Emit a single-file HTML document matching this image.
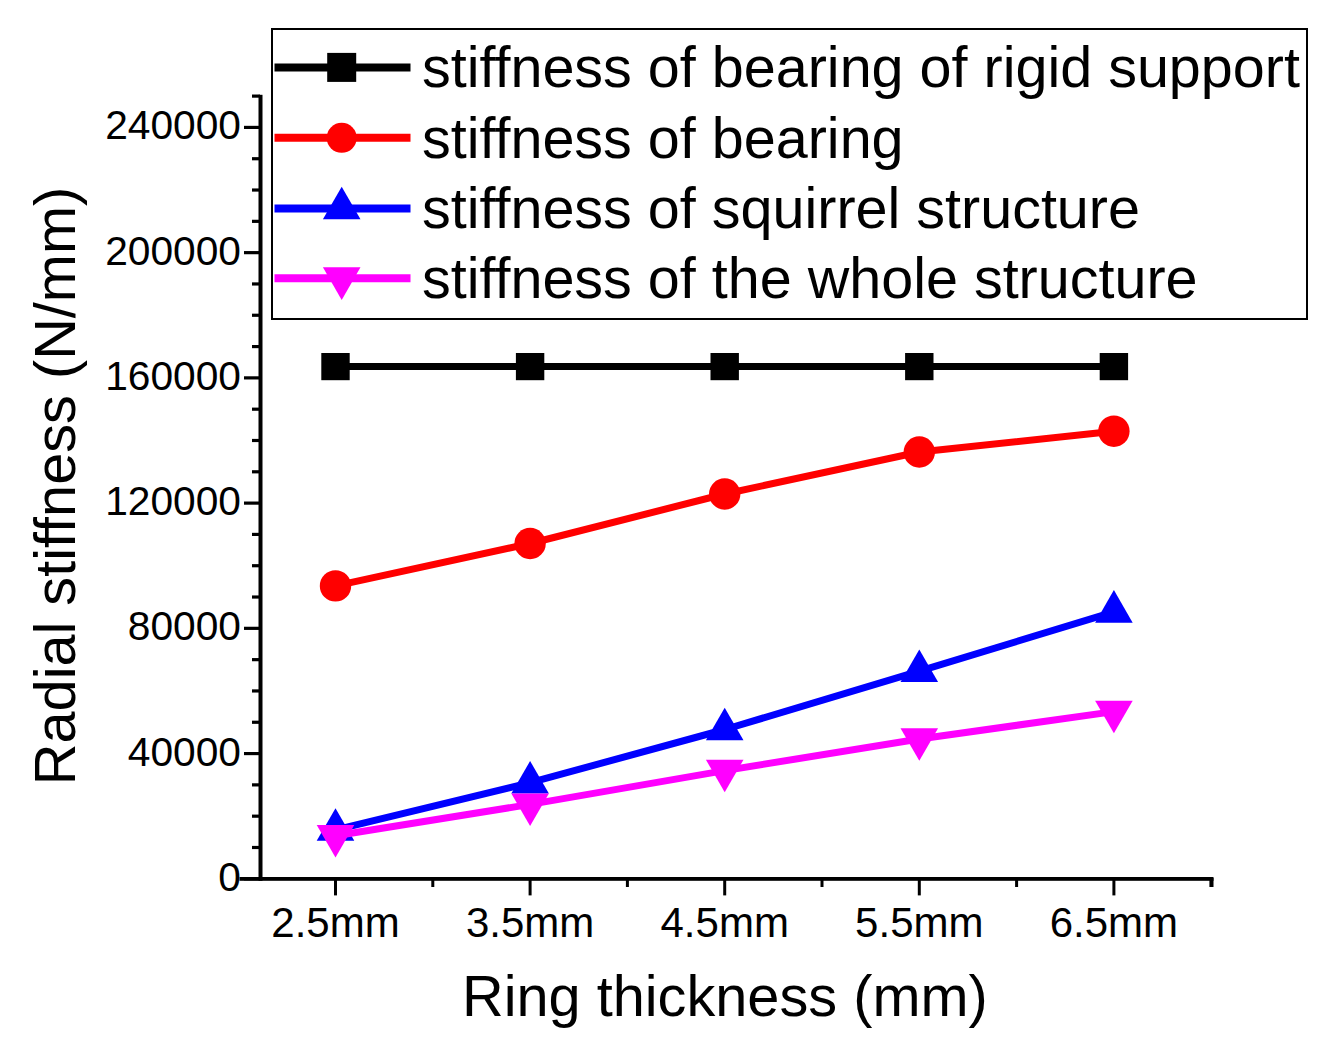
<!DOCTYPE html>
<html><head><meta charset="utf-8"><style>
html,body{margin:0;padding:0;background:#fff;width:1326px;height:1050px;overflow:hidden;font-family:"Liberation Sans",sans-serif;}
</style></head><body>
<svg width="1326" height="1050" viewBox="0 0 1326 1050" style="position:absolute;left:0;top:0">
<g stroke="#000" fill="none">
<rect x="258.5" y="94.8" width="4" height="786" fill="#000" stroke="none"/>
<rect x="239.5" y="877" width="974" height="3.8" fill="#000" stroke="none"/>
<line x1="244" y1="878.80" x2="260" y2="878.80" stroke-width="3.2"/>
<line x1="252" y1="847.49" x2="260" y2="847.49" stroke-width="3.2"/>
<line x1="252" y1="816.18" x2="260" y2="816.18" stroke-width="3.2"/>
<line x1="252" y1="784.88" x2="260" y2="784.88" stroke-width="3.2"/>
<line x1="244" y1="753.57" x2="260" y2="753.57" stroke-width="3.2"/>
<line x1="252" y1="722.26" x2="260" y2="722.26" stroke-width="3.2"/>
<line x1="252" y1="690.95" x2="260" y2="690.95" stroke-width="3.2"/>
<line x1="252" y1="659.65" x2="260" y2="659.65" stroke-width="3.2"/>
<line x1="244" y1="628.34" x2="260" y2="628.34" stroke-width="3.2"/>
<line x1="252" y1="597.03" x2="260" y2="597.03" stroke-width="3.2"/>
<line x1="252" y1="565.72" x2="260" y2="565.72" stroke-width="3.2"/>
<line x1="252" y1="534.42" x2="260" y2="534.42" stroke-width="3.2"/>
<line x1="244" y1="503.11" x2="260" y2="503.11" stroke-width="3.2"/>
<line x1="252" y1="471.80" x2="260" y2="471.80" stroke-width="3.2"/>
<line x1="252" y1="440.49" x2="260" y2="440.49" stroke-width="3.2"/>
<line x1="252" y1="409.19" x2="260" y2="409.19" stroke-width="3.2"/>
<line x1="244" y1="377.88" x2="260" y2="377.88" stroke-width="3.2"/>
<line x1="252" y1="346.57" x2="260" y2="346.57" stroke-width="3.2"/>
<line x1="252" y1="315.26" x2="260" y2="315.26" stroke-width="3.2"/>
<line x1="252" y1="283.96" x2="260" y2="283.96" stroke-width="3.2"/>
<line x1="244" y1="252.65" x2="260" y2="252.65" stroke-width="3.2"/>
<line x1="252" y1="221.34" x2="260" y2="221.34" stroke-width="3.2"/>
<line x1="252" y1="190.03" x2="260" y2="190.03" stroke-width="3.2"/>
<line x1="252" y1="158.73" x2="260" y2="158.73" stroke-width="3.2"/>
<line x1="244" y1="127.42" x2="260" y2="127.42" stroke-width="3.2"/>
<line x1="252" y1="96.11" x2="260" y2="96.11" stroke-width="3.2"/>
<line x1="335.50" y1="879" x2="335.50" y2="895.4" stroke-width="3"/>
<line x1="530.10" y1="879" x2="530.10" y2="895.4" stroke-width="3"/>
<line x1="724.70" y1="879" x2="724.70" y2="895.4" stroke-width="3"/>
<line x1="919.30" y1="879" x2="919.30" y2="895.4" stroke-width="3"/>
<line x1="1113.90" y1="879" x2="1113.90" y2="895.4" stroke-width="3"/>
<line x1="432.80" y1="879" x2="432.80" y2="887" stroke-width="3"/>
<line x1="627.40" y1="879" x2="627.40" y2="887" stroke-width="3"/>
<line x1="822.00" y1="879" x2="822.00" y2="887" stroke-width="3"/>
<line x1="1016.60" y1="879" x2="1016.60" y2="887" stroke-width="3"/>
<rect x="1209.4" y="878" width="4.1" height="9" fill="#000" stroke="none"/>
</g>
<g font-family="Liberation Sans, sans-serif" font-size="40.7" fill="#000">
<text x="241" y="890.80" text-anchor="end">0</text>
<text x="241" y="765.57" text-anchor="end">40000</text>
<text x="241" y="640.34" text-anchor="end">80000</text>
<text x="241" y="515.11" text-anchor="end">120000</text>
<text x="241" y="389.88" text-anchor="end">160000</text>
<text x="241" y="264.65" text-anchor="end">200000</text>
<text x="241" y="139.42" text-anchor="end">240000</text>
</g><g font-family="Liberation Sans, sans-serif" font-size="42" fill="#000">
<text x="335.50" y="936.8" text-anchor="middle">2.5mm</text>
<text x="530.10" y="936.8" text-anchor="middle">3.5mm</text>
<text x="724.70" y="936.8" text-anchor="middle">4.5mm</text>
<text x="919.30" y="936.8" text-anchor="middle">5.5mm</text>
<text x="1113.90" y="936.8" text-anchor="middle">6.5mm</text>
</g>
<text x="462" y="1016" font-family="Liberation Sans, sans-serif" font-size="57.7" fill="#000">Ring thickness (mm)</text>
<text transform="translate(74.9,785.2) rotate(-90)" x="0" y="0" font-family="Liberation Sans, sans-serif" font-size="57.7" fill="#000">Radial stiffness (N/mm)</text>
<polyline points="335.50,366.60 530.10,366.60 724.70,366.60 919.30,366.60 1113.90,366.60" fill="none" stroke="#000" stroke-width="7" stroke-linejoin="round"/>
<g fill="#000"><rect x="321.30" y="353.00" width="28.4" height="27.2"/><rect x="515.90" y="353.00" width="28.4" height="27.2"/><rect x="710.50" y="353.00" width="28.4" height="27.2"/><rect x="905.10" y="353.00" width="28.4" height="27.2"/><rect x="1099.70" y="353.00" width="28.4" height="27.2"/></g>
<polyline points="335.50,585.90 530.10,543.50 724.70,494.00 919.30,452.00 1113.90,431.20" fill="none" stroke="#f00" stroke-width="7" stroke-linejoin="round"/>
<g fill="#f00"><circle cx="335.50" cy="585.90" r="15.7"/><circle cx="530.10" cy="543.50" r="15.7"/><circle cx="724.70" cy="494.00" r="15.7"/><circle cx="919.30" cy="452.00" r="15.7"/><circle cx="1113.90" cy="431.20" r="15.7"/></g>
<polyline points="335.50,829.90 530.10,782.70 724.70,729.50 919.30,671.20 1113.90,611.80" fill="none" stroke="#00f" stroke-width="7" stroke-linejoin="round"/>
<g fill="#00f"><polygon points="335.50,808.20 316.71,840.75 354.29,840.75"/><polygon points="530.10,761.00 511.31,793.55 548.89,793.55"/><polygon points="724.70,707.80 705.91,740.35 743.49,740.35"/><polygon points="919.30,649.50 900.51,682.05 938.09,682.05"/><polygon points="1113.90,590.10 1095.11,622.65 1132.69,622.65"/></g>
<polyline points="335.50,835.80 530.10,804.40 724.70,770.60 919.30,739.00 1113.90,711.60" fill="none" stroke="#f0f" stroke-width="7" stroke-linejoin="round"/>
<g fill="#f0f"><polygon points="335.50,857.50 316.71,824.95 354.29,824.95"/><polygon points="530.10,826.10 511.31,793.55 548.89,793.55"/><polygon points="724.70,792.30 705.91,759.75 743.49,759.75"/><polygon points="919.30,760.70 900.51,728.15 938.09,728.15"/><polygon points="1113.90,733.30 1095.11,700.75 1132.69,700.75"/></g>
<rect x="272" y="29" width="1034.5" height="289.5" fill="#fff" stroke="#000" stroke-width="2" shape-rendering="crispEdges"/>
<line x1="274.5" y1="67.4" x2="410.5" y2="67.4" stroke="#000" stroke-width="8"/>
<rect x="327.20" y="52.90" width="29" height="29" fill="#000"/>
<text x="422" y="87.10" font-family="Liberation Sans, sans-serif" font-size="57.5" fill="#000">stiffness of bearing of rigid support</text>
<line x1="274.5" y1="137.8" x2="410.5" y2="137.8" stroke="#f00" stroke-width="8"/>
<circle cx="341.7" cy="137.8" r="15" fill="#f00"/>
<text x="422" y="157.50" font-family="Liberation Sans, sans-serif" font-size="57.5" fill="#000">stiffness of bearing</text>
<line x1="274.5" y1="208.4" x2="410.5" y2="208.4" stroke="#00f" stroke-width="8"/>
<g fill="#00f"><polygon points="341.70,186.70 322.91,219.25 360.49,219.25"/></g>
<text x="422" y="228.10" font-family="Liberation Sans, sans-serif" font-size="57.5" fill="#000">stiffness of squirrel structure</text>
<line x1="274.5" y1="278.2" x2="410.5" y2="278.2" stroke="#f0f" stroke-width="8"/>
<g fill="#f0f"><polygon points="341.70,299.90 322.91,267.35 360.49,267.35"/></g>
<text x="422" y="297.90" font-family="Liberation Sans, sans-serif" font-size="57.5" fill="#000">stiffness of the whole structure</text>
</svg>
</body></html>
